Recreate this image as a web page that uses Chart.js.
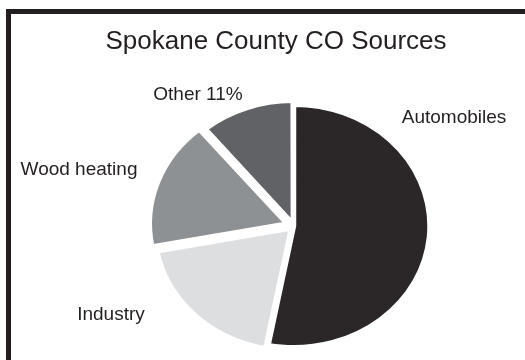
<!DOCTYPE html>
<html>
<head>
<meta charset="utf-8">
<title>Spokane County CO Sources</title>
<script src="https://cdn.jsdelivr.net/npm/chart.js@4/dist/chart.umd.min.js"></script>
<style>
	html,body{margin:0;padding:0;background:#fff;}
	#wrap{width:525px;height:360px;}
</style>
</head>
<body>
<div id="wrap"><canvas id="ctx" width="525" height="360"></canvas></div>
<script>

	// co sources, percent of county total
	var sources = ['Automobiles','Industry','Wood heating','Other'];
	var shares = [53,19,17,11];
	var labelText = ['Automobiles','Industry','Wood heating','Other 11%'];

	var fills = ['#2b2728','#dcdee0','#8e9194','#606265'];
	var offsets = [0,16,29,12];
	var ink = '#231f20';

	// where each slice name sits (centre x, baseline y)
	var labelSpots = [[454,123],[111,320],[79,175],[198,100]];

	var stretchX = 1.12;

	// frame and text
	var decor = {
		id:'decor',
		beforeDraw:function(chart){
			var c = chart.ctx;
			c.save();
			c.fillStyle = ink;
			c.fillRect(6,9,519,5);
			c.fillRect(6,9,5,351);
			c.restore();
		},
		afterDraw:function(chart){
			var c = chart.ctx;
			c.save();
			c.fillStyle = ink;
			c.textAlign = 'center';
			c.textBaseline = 'alphabetic';
			c.font = '26px "Liberation Sans", Arial, sans-serif';
			c.fillText('Spokane County CO Sources',276,49);
			c.font = '19px "Liberation Sans", Arial, sans-serif';
			for(var i = 0 ; i<labelText.length ; i++){
				c.fillText(labelText[i],labelSpots[i][0],labelSpots[i][1]);
			}
			c.restore();
		}
	};

	// the pie is a bit wider than tall
	var oval = {
		id:'oval',
		beforeDatasetsDraw:function(chart){
			var arc = chart.getDatasetMeta(0).data[0];
			var c = chart.ctx;
			c.save();
			c.translate(arc.x,arc.y);
			c.scale(stretchX,1);
			c.translate(-arc.x,-arc.y);
		},
		afterDatasetsDraw:function(chart){
			chart.ctx.restore();
		}
	};

	var mychart = new Chart(document.getElementById('ctx'),{
		type:'pie',
		data:{
			labels:sources,
			datasets:[{
				data:shares,
				backgroundColor:fills,
				borderColor:'#ffffff',
				borderWidth:4,
				offset:offsets,
				clip:false
			}]
		},
		options:{
			responsive:false,
			animation:false,
			events:[],
			devicePixelRatio:1,
			radius:121,
			layout:{padding:{left:63,right:0,top:92,bottom:0}},
			plugins:{
				legend:{display:false},
				tooltip:{enabled:false},
				title:{display:false}
			}
		},
		plugins:[decor,oval]
	});

</script>
</body>
</html>
